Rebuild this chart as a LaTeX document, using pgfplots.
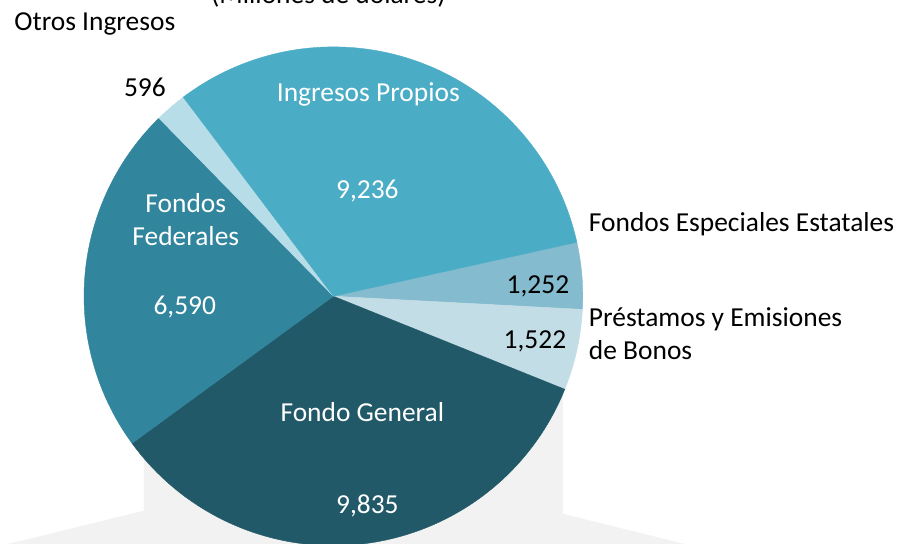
\documentclass[border=0pt]{standalone}
\usepackage{fontspec}
\setmainfont{Carlito}
\usepackage{pgfplots}
\pgfplotsset{compat=1.18}
\usepackage{pgfplotstable}
\definecolor{cIP}{HTML}{4BACC6}
\definecolor{cFE}{HTML}{84BBCE}
\definecolor{cPE}{HTML}{C3DDE6}
\definecolor{cFG}{HTML}{215968}
\definecolor{cFF}{HTML}{31859C}
\definecolor{cOI}{HTML}{B7DEE8}
\definecolor{cSh}{HTML}{F2F2F2}
\newcommand{\lbl}{\fontsize{27.6}{33}\selectfont}

% values (millones de dolares), clockwise from angle 12.5 deg
\pgfplotstableread{
name value
FE 1252
PE 1522
FG 9835
FF 6590
OI 596
IP 9236
}\piedata

% light grey callout behind the pie (pixel x, 545 - pixel y)
\pgfplotstableread{
x y
142 105
142 33
-5 -3
695 -3
562 30
562 150
}\shadedata

\newcommand{\getval}[2]{\pgfplotstablegetelem{#1}{value}\of\piedata\global\let#2\pgfplotsretval}

\begin{document}
\getval{0}{\vFE}\getval{1}{\vPE}\getval{2}{\vFG}\getval{3}{\vFF}\getval{4}{\vOI}\getval{5}{\vIP}
\begin{tikzpicture}
\pgfmathsetmacro{\tot}{\vFE/1000+\vPE/1000+\vFG/1000+\vFF/1000+\vOI/1000+\vIP/1000}
\pgfmathsetmacro{\aA}{12.5}
\pgfmathsetmacro{\aB}{\aA-360*(\vFE/1000)/\tot}
\pgfmathsetmacro{\aC}{\aB-360*(\vPE/1000)/\tot}
\pgfmathsetmacro{\aD}{\aC-360*(\vFG/1000)/\tot}
\pgfmathsetmacro{\aE}{\aD-360*(\vFF/1000)/\tot}
\pgfmathsetmacro{\aF}{\aE-360*(\vOI/1000)/\tot}
\pgfmathsetmacro{\aG}{\aF-360*(\vIP/1000)/\tot}
\begin{axis}[name=ax, width=903bp, height=545bp, scale only axis,
  xmin=0, xmax=903, ymin=0, ymax=545, hide axis, clip=true]
\addplot[fill=cSh, draw=none] table[x=x,y=y] {\shadedata} -- cycle;
\addplot[fill=cFE, draw=cFE, line width=0.4bp, domain=\aB:\aA, samples=40, variable=\t] ({332+250*cos(\t)},{248+250*sin(\t)}) -- (332,248) -- cycle;
\addplot[fill=cPE, draw=cPE, line width=0.4bp, domain=\aC:\aB, samples=40, variable=\t] ({332+250*cos(\t)},{248+250*sin(\t)}) -- (332,248) -- cycle;
\addplot[fill=cFG, draw=cFG, line width=0.4bp, domain=\aD:\aC, samples=120, variable=\t] ({332+250*cos(\t)},{248+250*sin(\t)}) -- (332,248) -- cycle;
\addplot[fill=cFF, draw=cFF, line width=0.4bp, domain=\aE:\aD, samples=100, variable=\t] ({332+250*cos(\t)},{248+250*sin(\t)}) -- (332,248) -- cycle;
\addplot[fill=cOI, draw=cOI, line width=0.4bp, domain=\aF:\aE, samples=20, variable=\t] ({332+250*cos(\t)},{248+250*sin(\t)}) -- (332,248) -- cycle;
\addplot[fill=cIP, draw=cIP, line width=0.4bp, domain=\aG:\aF, samples=120, variable=\t] ({332+250*cos(\t)},{248+250*sin(\t)}) -- (332,248) -- cycle;

\node[anchor=base, font=\lbl, text=white, inner sep=0pt] at (367,443) {Ingresos Propios};
\node[anchor=base, font=\lbl, text=white, inner sep=0pt] at (366,346) {9,236};
\node[anchor=base, font=\lbl, text=white, inner sep=0pt] at (184,332) {Fondos};
\node[anchor=base, font=\lbl, text=white, inner sep=0pt] at (184,299) {Federales};
\node[anchor=base, font=\lbl, text=white, inner sep=0pt] at (183,230) {6,590};
\node[anchor=base, font=\lbl, text=white, inner sep=0pt] at (361,122) {Fondo General};
\node[anchor=base, font=\lbl, text=white, inner sep=0pt] at (366,30) {9,835};
\node[anchor=base, font=\lbl, text=black, inner sep=0pt] at (537,251) {1,252};
\node[anchor=base, font=\lbl, text=black, inner sep=0pt] at (534,196) {1,522};
\node[anchor=base west, font=\lbl, text=black, inner sep=0pt] at (588,313) {Fondos Especiales Estatales};
\node[anchor=base west, font=\lbl, text=black, inner sep=0pt] at (588,218) {Préstamos y Emisiones};
\node[anchor=base west, font=\lbl, text=black, inner sep=0pt] at (588,185) {de Bonos};
\node[anchor=base, font=\lbl, text=black, inner sep=0pt] at (143,448) {596};
\node[anchor=base west, font=\lbl, text=black, inner sep=0pt] at (12,514) {Otros Ingresos};
\node[anchor=base, font=\lbl, text=black, inner sep=0pt] at (327,541) {(Millones de dólares)};
\end{axis}
\pgfresetboundingbox
\path[use as bounding box] (ax.south west) rectangle (ax.north east);
\end{tikzpicture}
\end{document}
